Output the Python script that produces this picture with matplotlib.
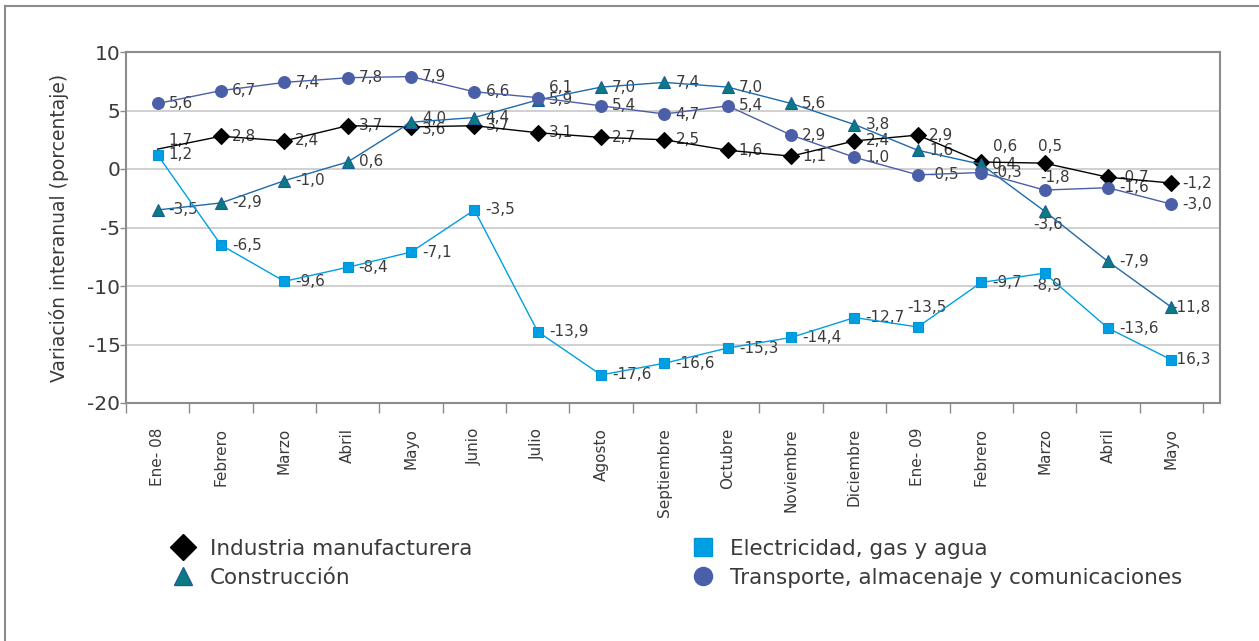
import matplotlib
matplotlib.use('Agg')
from matplotlib import pyplot as plt
from matplotlib.lines import Line2D

### Data
meses = ['Ene- 08', 'Febrero', 'Marzo', 'Abril', 'Mayo', 'Junio', 'Julio', 'Agosto',
         'Septiembre', 'Octubre', 'Noviembre', 'Diciembre', 'Ene- 09', 'Febrero',
         'Marzo', 'Abril', 'Mayo']

industria = [1.7, 2.8, 2.4, 3.7, 3.6, 3.7, 3.1, 2.7, 2.5, 1.6, 1.1, 2.4, 2.9, 0.6, 0.5, -0.7, -1.2]
construccion = [-3.5, -2.9, -1.0, 0.6, 4.0, 4.4, 5.9, 7.0, 7.4, 7.0, 5.6, 3.8, 1.6, 0.4, -3.6, -7.9, -11.8]
electricidad = [1.2, -6.5, -9.6, -8.4, -7.1, -3.5, -13.9, -17.6, -16.6, -15.3, -14.4, -12.7, -13.5, -9.7, -8.9, -13.6, -16.3]
transporte = [5.6, 6.7, 7.4, 7.8, 7.9, 6.6, 6.1, 5.4, 4.7, 5.4, 2.9, 1.0, -0.5, -0.3, -1.8, -1.6, -3.0]

nombres = ['Industria manufacturera', 'Construcción', 'Electricidad, gas y agua',
           'Transporte, almacenaje y comunicaciones']

### Plot parameters
plt.rcParams['font.family'] = 'DejaVu Sans'
TXT = '#3a3a3a'

fig = plt.figure(figsize=(12.59, 6.41), dpi=100)
ax = fig.add_axes([126/1259, 1 - 403/641, (1220-126)/1259, (403-52)/641])

x = list(range(len(meses)))

# series styles: (marker, markersize, face, edge, line colour)
estilos = {
    'ind': ('D', 8, '#000000', '#000000', '#000000'),
    'con': ('^', 9, '#0a7b80', '#1b5b9c', '#1f6aa8'),
    'ele': ('s', 7.5, '#009fe3', '#0095d8', '#009fe3'),
    'tra': ('o', 8.5, '#4a5fa8', '#4a5fa8', '#4a5fa8'),
}
series = [('ind', industria), ('con', construccion), ('ele', electricidad), ('tra', transporte)]

# label offsets in pixels (dx, dy) where default does not fit
ajustes = {
    ('ind', 0): (11, 9), ('ind', 4): (11, -3), ('con', 4): (11, 4),
    ('tra', 6): (11, 10), ('ind', 13): (12, 15), ('ind', 14): (-7, 17),
    ('tra', 14): (-4, 13), ('con', 14): (-11, -13), ('ele', 14): (-12, -12),
    ('ele', 12): (-11, 19), ('con', 16): (0, 0), ('ele', 16): (0, 0),
}

for key, vals in series:
    mk, ms, fc, ec, lc = estilos[key]
    every = list(range(1, len(vals))) if key == 'ind' else None
    ax.plot(x, vals, color=lc, linewidth=1.0, marker=mk, markersize=ms,
            markerfacecolor=fc, markeredgecolor=ec, markeredgewidth=0.8,
            markevery=every, zorder=4)
    for i, v in enumerate(vals):
        dx, dy = ajustes.get((key, i), (11, 0))
        ax.annotate(f'{v:.1f}'.replace('.', ','), (i, v), xytext=(dx, dy),
                    textcoords='offset pixels', ha='left', va='center',
                    fontsize=11, color=TXT, zorder=3)

### Axes
ax.set_ylim(-20, 10)
ax.set_xlim(-0.5, 16.77)
ax.set_yticks([10, 5, 0, -5, -10, -15, -20])
ax.set_yticklabels(['10', '5', '0', '-5', '-10', '-15', '-20'], fontsize=14.5, color=TXT)
ax.tick_params(axis='y', length=4, width=1, color='#8c8c8c', pad=0)

ax.set_xticks([i - 0.5 for i in range(len(meses) + 1)])
ax.set_xticklabels([])
ax.tick_params(axis='x', which='major', length=7, width=1, color='#8c8c8c')
ax.set_xticks(x, minor=True)
ax.set_xticklabels(meses, minor=True, rotation=90, fontsize=11, color=TXT)
ax.tick_params(axis='x', which='minor', length=0, pad=18)

ax.grid(axis='y', color='#c8c8c8', linewidth=1.2, zorder=0)
ax.set_axisbelow(True)
for s in ax.spines.values():
    s.set_color('#8c8c8c')
    s.set_linewidth(1.5)

ax.set_ylabel('Variación interanual (porcentaje)', fontsize=13.5, color=TXT, labelpad=13)

### Legend (two single-column legends)
handles = []
for key, _ in series:
    mk, ms, fc, ec, lc = estilos[key]
    handles.append(Line2D([], [], linestyle='none', marker=mk, markersize=13,
                          markerfacecolor=fc, markeredgecolor=ec))
for cols, xpos in [((0, 1), 173), ((2, 3), 693)]:
    leg = fig.legend([handles[c] for c in cols], [nombres[c] for c in cols],
                     loc='upper left', bbox_to_anchor=(xpos/1259, 1 - 539/641),
                     frameon=False, fontsize=15.5, handlelength=0.95, handletextpad=0.75,
                     borderpad=0, borderaxespad=0, labelspacing=0.4, labelcolor=TXT)

### Outer frame
fig.add_artist(Line2D([5/1259, 1], [1 - 6/641, 1 - 6/641], color='#8c8c8c', linewidth=1.5))
fig.add_artist(Line2D([5/1259, 5/1259], [0, 1 - 6/641], color='#8c8c8c', linewidth=1.5))

plt.savefig('out.png', dpi=100)
